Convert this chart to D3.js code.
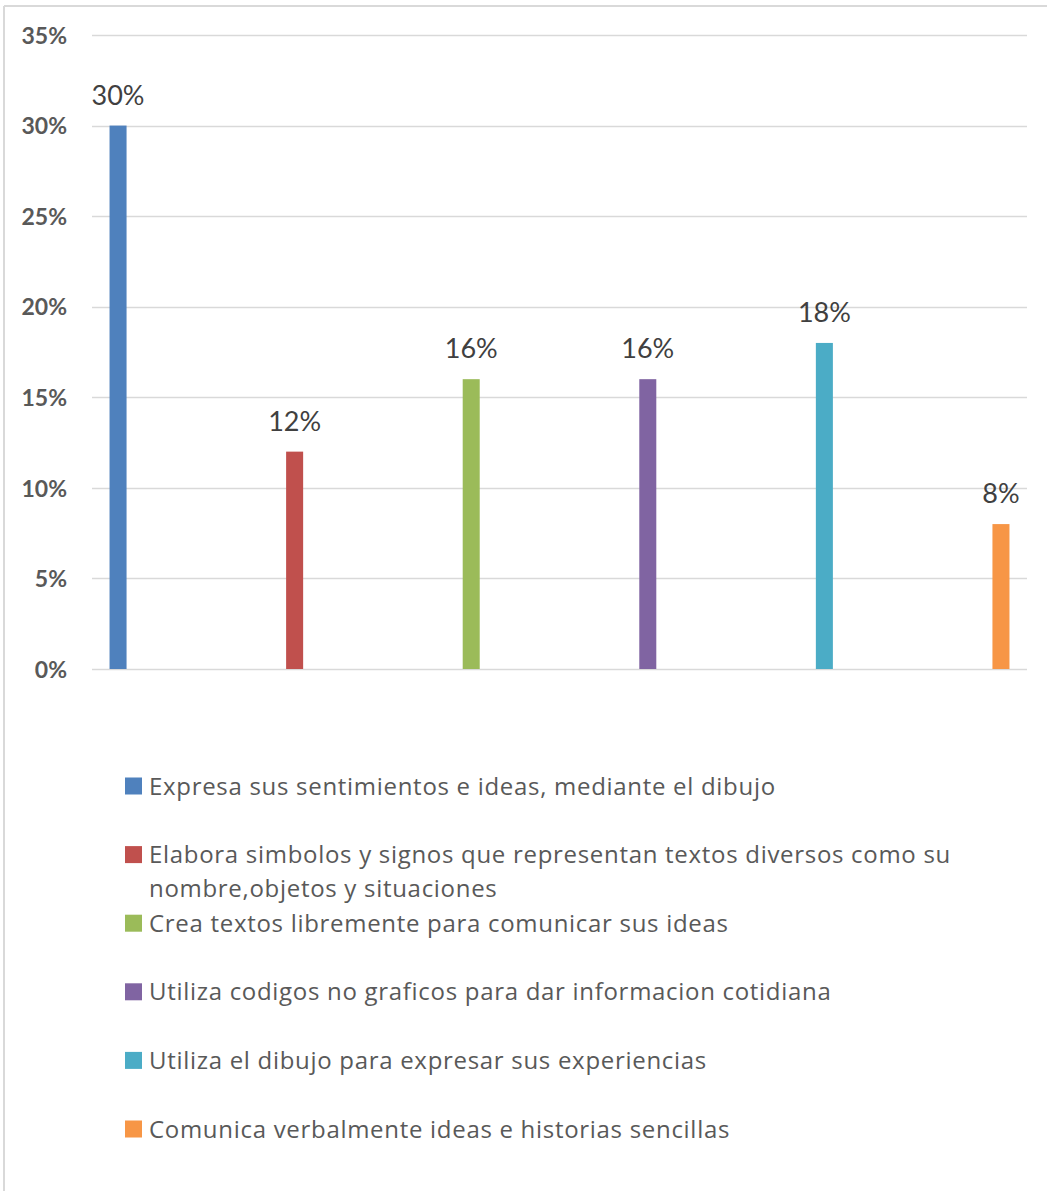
<!DOCTYPE html>
<html><head><meta charset="utf-8">
<script src="https://cdnjs.cloudflare.com/ajax/libs/d3/7.8.5/d3.min.js"></script>
<style>html,body{margin:0;padding:0;background:#fff;}svg{display:block;}</style>
</head><body>
<script>
const seriesNames = [
  "Expresa sus sentimientos e ideas, mediante el dibujo",
  "Elabora simbolos y signos que representan textos diversos como su nombre,objetos y situaciones",
  "Crea textos libremente para comunicar sus ideas",
  "Utiliza codigos no graficos para dar informacion cotidiana",
  "Utiliza el dibujo para expresar sus experiencias",
  "Comunica verbalmente ideas e historias sencillas"
];
const legendLines = [
  ["Expresa sus sentimientos e ideas, mediante el dibujo"],
  ["Elabora simbolos y signos que representan textos diversos como su", "nombre,objetos y situaciones"],
  ["Crea textos libremente para comunicar sus ideas"],
  ["Utiliza codigos no graficos para dar informacion cotidiana"],
  ["Utiliza el dibujo para expresar sus experiencias"],
  ["Comunica verbalmente ideas e historias sencillas"]
];
const values = [0.30, 0.12, 0.16, 0.16, 0.18, 0.08];
const colors = ["#4f81bd", "#c0504d", "#9bbb59", "#8064a2", "#4bacc6", "#f79646"];
const yTicks = [0, 0.05, 0.10, 0.15, 0.20, 0.25, 0.30, 0.35];

const W = 1047, H = 1191;
const svg = d3.select("body").append("svg").attr("width", W).attr("height", H);

// chart border (top and left visible)
svg.append("line").attr("x1", 4).attr("x2", W).attr("y1", 6).attr("y2", 6)
  .attr("stroke", "#d9d9d9").attr("stroke-width", 2);
svg.append("line").attr("x1", 4).attr("x2", 4).attr("y1", 6).attr("y2", H)
  .attr("stroke", "#d9d9d9").attr("stroke-width", 2);

const plotL = 92, plotR = 1027, plotT = 35, plotB = 669;
const y = d3.scaleLinear().domain([0, 0.35]).range([plotB, plotT]);
const x = d3.scaleBand().domain(d3.range(values.length)).range([plotL, plotR])
  .paddingInner(0.9036).paddingOuter(0.0993);

// gridlines
svg.append("g").selectAll("line").data(yTicks).join("line")
  .attr("x1", plotL).attr("x2", plotR)
  .attr("y1", d => Math.round(y(d)) + 0.5).attr("y2", d => Math.round(y(d)) + 0.5)
  .attr("stroke", "#d9d9d9").attr("stroke-width", 1.5);

// y-axis labels
const yAxis = d3.axisLeft(y).tickValues(yTicks).tickFormat(d3.format(".0%")).tickSize(0).tickPadding(0);
const gy = svg.append("g").attr("transform", "translate(67,0)").call(yAxis);
gy.select(".domain").remove();
gy.selectAll("text").attr("font-family", "Lato, 'Open Sans', sans-serif")
  .attr("font-weight", "bold").attr("font-size", 23).attr("fill", "#595959").attr("dy", "0.36em");

// bars
svg.append("g").selectAll("rect").data(values).join("rect")
  .attr("x", (d, i) => x(i)).attr("width", x.bandwidth())
  .attr("y", d => y(d)).attr("height", d => y(0) - y(d))
  .attr("fill", (d, i) => colors[i]);

// data labels
svg.append("g").selectAll("text").data(values).join("text")
  .attr("x", (d, i) => x(i) + x.bandwidth() / 2)
  .attr("y", d => y(d) - 21)
  .attr("text-anchor", "middle")
  .attr("font-family", "Lato, 'Open Sans', sans-serif")
  .attr("font-size", 27).attr("fill", "#404040")
  .text(d => d3.format(".0%")(d));

// legend
const ly = d3.scaleLinear().domain([0, 5]).range([786, 1129]);
const lg = svg.append("g").selectAll("g").data(legendLines).join("g")
  .attr("transform", (d, i) => `translate(125,${ly(i)})`);
lg.append("rect").attr("x", 0).attr("y", -8.5).attr("width", 17).attr("height", 17)
  .attr("fill", (d, i) => colors[i]);
lg.each(function(lines) {
  const t = d3.select(this).append("text")
    .attr("font-family", "'Open Sans', sans-serif").attr("font-size", 24)
    .attr("letter-spacing", "0.7px").attr("fill", "#595959");
  lines.forEach((ln, j) => {
    t.append("tspan").attr("x", 24).attr("y", 8.5 + j * 34).text(ln);
  });
});
</script>
</body></html>
